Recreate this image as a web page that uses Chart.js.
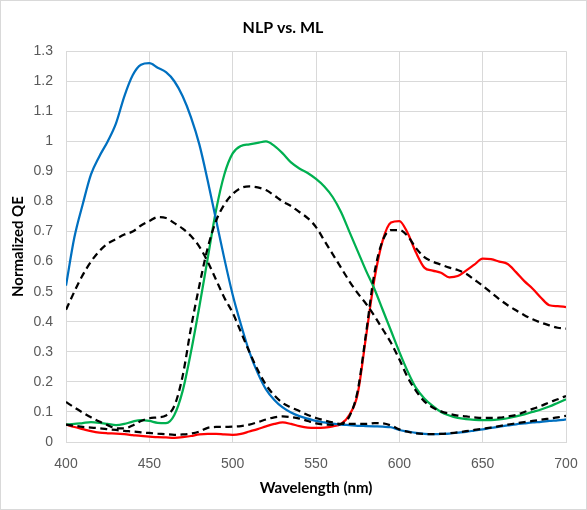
<!DOCTYPE html>
<html>
<head>
<meta charset="utf-8">
<script src="https://cdn.jsdelivr.net/npm/chart.js@4.4.1/dist/chart.umd.min.js"></script>
<style>
html,body{margin:0;padding:0;background:#fff;}
#wrap{width:587px;height:510px;position:relative;}
</style>
</head>
<body>
<div id="wrap"><canvas id="c" width="587" height="510"></canvas></div>
<script>
const chartTitle = "NLP vs. ML";
const xTitle = "Wavelength (nm)";
const yTitle = "Normalized QE";
const xTickValues = [400, 450, 500, 550, 600, 650, 700];
const yTickLabels = ["0","0.1","0.2","0.3","0.4","0.5","0.6","0.7","0.8","0.9","1","1.1","1.2","1.3"];

const wavelengths = [400,405,410,415,420,425,430,435,440,445,450,455,460,465,470,475,480,485,490,495,
  500,505,510,515,520,525,530,535,540,545,550,555,560,565,570,575,580,585,590,595,
  600,605,610,615,620,625,630,635,640,645,650,655,660,665,670,675,680,685,690,695,700];

const nlpBlue = [0.52,0.68,0.79,0.89,0.95,1.00,1.06,1.15,1.22,1.255,1.26,1.245,1.23,1.20,1.15,1.08,0.99,0.87,0.74,0.61,
  0.49,0.39,0.30,0.23,0.175,0.14,0.115,0.098,0.086,0.078,0.07,0.065,0.061,0.058,0.056,0.054,0.053,0.052,0.051,0.049,
  0.04,0.035,0.03,0.027,0.026,0.027,0.028,0.031,0.034,0.038,0.042,0.047,0.051,0.055,0.059,0.062,0.065,0.067,0.07,0.072,0.075];

const mlBlue = [0.44,0.50,0.555,0.60,0.635,0.66,0.675,0.69,0.70,0.72,0.735,0.748,0.745,0.728,0.71,0.685,0.65,0.60,0.54,0.48,
  0.43,0.365,0.30,0.24,0.19,0.155,0.13,0.115,0.103,0.09,0.08,0.072,0.065,0.06,0.06,0.06,0.06,0.063,0.062,0.055,
  0.042,0.034,0.029,0.027,0.026,0.027,0.029,0.032,0.036,0.04,0.044,0.048,0.053,0.058,0.062,0.066,0.07,0.074,0.078,0.082,0.087];

const nlpGreen = [0.058,0.06,0.063,0.066,0.064,0.06,0.056,0.06,0.068,0.073,0.07,0.064,0.063,0.09,0.17,0.30,0.45,0.61,0.77,0.89,
  0.96,0.985,0.99,0.995,1.0,0.985,0.96,0.93,0.91,0.895,0.875,0.85,0.815,0.765,0.70,0.635,0.57,0.51,0.44,0.37,
  0.30,0.235,0.18,0.145,0.12,0.10,0.088,0.08,0.076,0.074,0.073,0.073,0.075,0.079,0.085,0.092,0.10,0.108,0.118,0.13,0.142];

const mlGreen = [0.133,0.115,0.098,0.082,0.068,0.056,0.046,0.045,0.055,0.07,0.079,0.082,0.088,0.12,0.22,0.38,0.52,0.645,0.735,0.79,
  0.825,0.845,0.85,0.847,0.838,0.82,0.80,0.785,0.765,0.745,0.715,0.67,0.625,0.58,0.535,0.495,0.46,0.42,0.375,0.33,
  0.275,0.215,0.17,0.135,0.115,0.102,0.094,0.088,0.085,0.082,0.08,0.08,0.081,0.085,0.09,0.10,0.11,0.12,0.132,0.142,0.153];

const nlpRed = [0.058,0.05,0.043,0.036,0.031,0.029,0.028,0.026,0.023,0.02,0.018,0.016,0.015,0.014,0.016,0.02,0.025,0.027,0.027,0.025,
  0.024,0.027,0.035,0.043,0.052,0.06,0.065,0.06,0.053,0.048,0.047,0.048,0.052,0.06,0.09,0.16,0.35,0.54,0.67,0.73,
  0.735,0.695,0.63,0.58,0.57,0.563,0.548,0.552,0.57,0.59,0.61,0.608,0.60,0.592,0.565,0.535,0.51,0.48,0.455,0.452,0.449];

const mlRed = [0.058,0.054,0.05,0.048,0.046,0.043,0.04,0.037,0.035,0.032,0.03,0.028,0.026,0.024,0.025,0.028,0.035,0.047,0.05,0.05,
  0.051,0.053,0.058,0.066,0.075,0.082,0.085,0.083,0.078,0.07,0.062,0.058,0.057,0.06,0.085,0.17,0.36,0.56,0.67,0.705,
  0.705,0.685,0.645,0.615,0.60,0.59,0.58,0.572,0.56,0.54,0.52,0.497,0.475,0.455,0.438,0.422,0.408,0.397,0.388,0.38,0.377];

function pts(arr){ return arr.map((v,i)=>({x:wavelengths[i], y:v})); }

function solid(label, arr, color){
  return {label, data: pts(arr), borderColor: color, backgroundColor: color, borderWidth: 2.25,
    pointRadius: 0, fill: false, cubicInterpolationMode: 'monotone', order: 2};
}
function dashed(label, arr){
  return {label, data: pts(arr), borderColor: '#000000', backgroundColor: '#000000', borderWidth: 2.25,
    borderDash: [7,4.5], pointRadius: 0, fill: false, cubicInterpolationMode: 'monotone', order: 1};
}

const frame = {
  id: 'frame',
  afterDraw(chart){
    const ctx = chart.ctx;
    ctx.save();
    ctx.strokeStyle = '#d9d9d9';
    ctx.lineWidth = 1;
    ctx.strokeRect(0.5, 0.5, chart.width - 1, chart.height - 1);
    ctx.restore();
  }
};

new Chart(document.getElementById('c'), {
  type: 'line',
  data: {
    datasets: [
      solid('NLP Blue', nlpBlue, '#0070C0'),
      solid('NLP Green', nlpGreen, '#00B050'),
      solid('NLP Red', nlpRed, '#FF0000'),
      dashed('ML Blue', mlBlue),
      dashed('ML Green', mlGreen),
      dashed('ML Red', mlRed)
    ]
  },
  options: {
    responsive: false,
    animation: false,
    devicePixelRatio: 1,
    layout: { padding: { top: 0, left: 0, right: 21, bottom: 0 } },
    plugins: {
      legend: { display: false },
      tooltip: { enabled: false },
      title: {
        display: true,
        text: chartTitle,
        color: '#000000',
        font: { family: 'Lato, "Liberation Sans", sans-serif', size: 16, weight: 'bold', lineHeight: 1.2 },
        padding: { top: 18, bottom: 14 }
      }
    },
    scales: {
      x: {
        type: 'linear',
        min: 400, max: 700,
        afterBuildTicks(scale){ scale.ticks = xTickValues.map(v => ({value: v})); },
        afterFit(scale){ scale.height = 68; },
        grid: { color: '#d9d9d9', lineWidth: 1, drawTicks: true, tickLength: 12, tickColor: 'rgba(0,0,0,0)' },
        border: { color: '#d9d9d9', width: 1 },
        ticks: {
          color: '#595959',
          font: { family: '"Liberation Sans", Arial, sans-serif', size: 14 },
          padding: 2,
          maxRotation: 0,
          callback: (v) => String(v)
        },
        title: {
          display: true,
          text: xTitle,
          color: '#000000',
          font: { family: 'Lato, "Liberation Sans", sans-serif', size: 15, weight: 'bold', lineHeight: 1.2 },
          padding: { top: 0, bottom: 13 }
        }
      },
      y: {
        type: 'linear',
        min: 0, max: 1.3,
        afterBuildTicks(scale){ scale.ticks = yTickLabels.map(s => ({value: parseFloat(s)})); },
        afterFit(scale){ scale.width = 66; },
        grid: { color: '#d9d9d9', lineWidth: 1, drawTicks: false },
        border: { color: '#d9d9d9', width: 1 },
        ticks: {
          color: '#595959',
          font: { family: '"Liberation Sans", Arial, sans-serif', size: 14 },
          padding: 13,
          callback: (v, i) => yTickLabels[i]
        },
        title: {
          display: true,
          text: yTitle,
          color: '#000000',
          font: { family: 'Lato, "Liberation Sans", sans-serif', size: 15, weight: 'bold', lineHeight: 1.2 },
          padding: { top: 9, bottom: 0 }
        }
      }
    }
  },
  plugins: [frame]
});
</script>
</body>
</html>
